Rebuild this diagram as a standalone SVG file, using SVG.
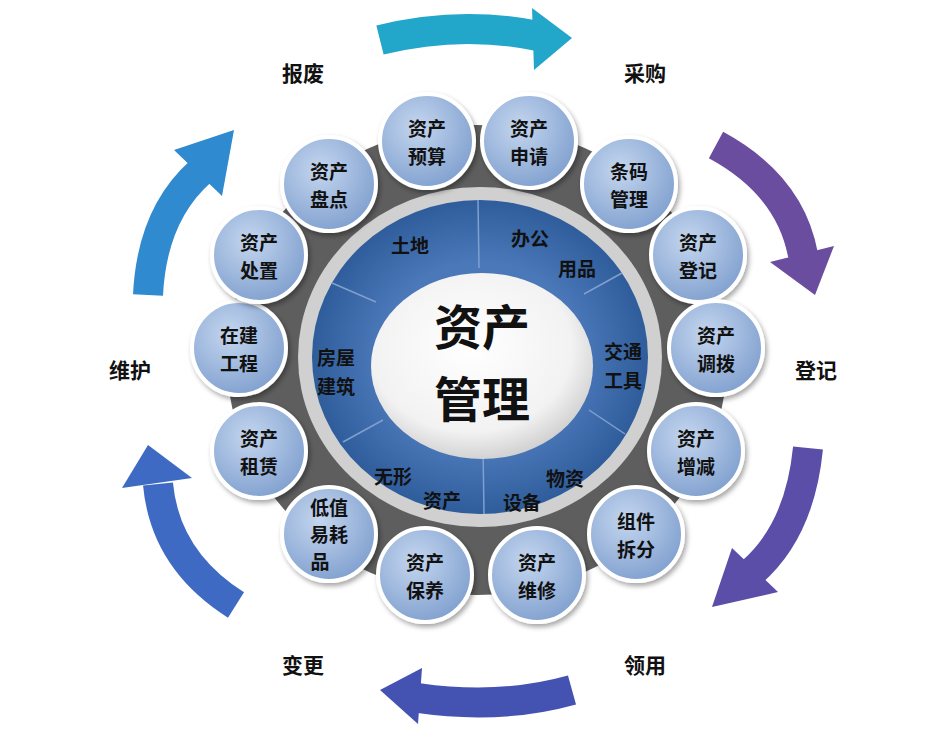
<svg xmlns="http://www.w3.org/2000/svg" width="946" height="746" viewBox="0 0 946 746">
<defs>
<radialGradient id="cg" cx="40%" cy="35%" r="70%"><stop offset="0" stop-color="#c4d6ef"/><stop offset="1" stop-color="#7f9fce"/></radialGradient>
<radialGradient id="wg" cx="45%" cy="40%" r="65%"><stop offset="0" stop-color="#ffffff"/><stop offset="0.7" stop-color="#f2f2f2"/><stop offset="1" stop-color="#c8c8c8"/></radialGradient>
<radialGradient id="bg" cx="50%" cy="50%" r="50%"><stop offset="0.6" stop-color="#4a78b8"/><stop offset="1" stop-color="#2f5d9c"/></radialGradient>
<filter id="sh" x="-20%" y="-20%" width="140%" height="140%"><feDropShadow dx="2" dy="3" stdDeviation="2.5" flood-color="#000" flood-opacity="0.35"/></filter>
<style>
.t{font-family:"Noto Sans CJK SC",sans-serif;font-weight:bold;fill:#111;text-anchor:middle}
.s{font-size:19px}
.n circle{fill:url(#cg);stroke:#fff;stroke-width:4;filter:url(#sh)}
.lab{font-size:21px}
.arc{fill:none;stroke-width:30}
</style>
</defs>
<rect width="946" height="746" fill="#fff"/>
<g id="hub">
<ellipse cx="477" cy="360" rx="250" ry="235" fill="#5e5e5e"/>
<ellipse cx="480" cy="357" rx="182" ry="170" fill="#d0d0d0"/>
<ellipse cx="480" cy="357" rx="168" ry="157" fill="url(#bg)"/>
<g stroke="#7fa0cf" stroke-width="1.5">
<line x1="478" y1="200" x2="479" y2="268"/>
<line x1="484" y1="514" x2="483" y2="447"/>
<line x1="584" y1="294" x2="622" y2="273"/>
<line x1="589" y1="410" x2="625" y2="434"/>
<line x1="376" y1="302" x2="332" y2="283"/>
<line x1="383" y1="420" x2="343" y2="442"/>
</g>
<ellipse cx="482" cy="366" rx="111" ry="93" fill="url(#wg)"/>
<text class="t" x="482" y="345" font-size="48">资产</text>
<text class="t" x="482" y="417" font-size="48">管理</text>
<text class="t s" x="410" y="253">土地</text>
<text class="t s" x="530" y="246">办公</text>
<text class="t s" x="577" y="276">用品</text>
<text class="t s" x="623" y="359">交通</text>
<text class="t s" x="623" y="388">工具</text>
<text class="t s" x="565" y="486">物资</text>
<text class="t s" x="522" y="510">设备</text>
<text class="t s" x="393" y="484">无形</text>
<text class="t s" x="442" y="508">资产</text>
<text class="t s" x="336" y="365">房屋</text>
<text class="t s" x="336" y="394">建筑</text>
</g>
<g id="n1" class="n"><circle cx="427" cy="141" r="47"/><text class="t s" x="427" y="136">资产</text><text class="t s" x="427" y="164">预算</text></g>
<g id="n2" class="n"><circle cx="529" cy="141" r="47"/><text class="t s" x="529" y="136">资产</text><text class="t s" x="529" y="164">申请</text></g>
<g id="n3" class="n"><circle cx="629" cy="184" r="47"/><text class="t s" x="629" y="179">条码</text><text class="t s" x="629" y="207">管理</text></g>
<g id="n4" class="n"><circle cx="698" cy="255" r="47"/><text class="t s" x="698" y="250">资产</text><text class="t s" x="698" y="278">登记</text></g>
<g id="n5" class="n"><circle cx="716" cy="348" r="47"/><text class="t s" x="716" y="343">资产</text><text class="t s" x="716" y="371">调拨</text></g>
<g id="n6" class="n"><circle cx="696" cy="451" r="47"/><text class="t s" x="696" y="446">资产</text><text class="t s" x="696" y="474">增减</text></g>
<g id="n7" class="n"><circle cx="636" cy="534" r="47"/><text class="t s" x="636" y="529">组件</text><text class="t s" x="636" y="557">拆分</text></g>
<g id="n8" class="n"><circle cx="537" cy="575" r="47"/><text class="t s" x="537" y="570">资产</text><text class="t s" x="537" y="598">维修</text></g>
<g id="n9" class="n"><circle cx="425" cy="575" r="47"/><text class="t s" x="425" y="570">资产</text><text class="t s" x="425" y="598">保养</text></g>
<g id="n10" class="n"><circle cx="329" cy="534" r="47"/><text class="t s" x="329" y="515">低值</text><text class="t s" x="329" y="542">易耗</text><text class="t s" x="320" y="569">品</text></g>
<g id="n11" class="n"><circle cx="259" cy="451" r="47"/><text class="t s" x="259" y="446">资产</text><text class="t s" x="259" y="474">租赁</text></g>
<g id="n12" class="n"><circle cx="239" cy="348" r="47"/><text class="t s" x="239" y="343">在建</text><text class="t s" x="239" y="371">工程</text></g>
<g id="n13" class="n"><circle cx="259" cy="255" r="47"/><text class="t s" x="259" y="250">资产</text><text class="t s" x="259" y="278">处置</text></g>
<g id="n14" class="n"><circle cx="329" cy="184" r="47"/><text class="t s" x="329" y="179">资产</text><text class="t s" x="329" y="207">盘点</text></g>
<g id="connectors">
<path class="arc" stroke="#22a6c9" d="M380,40 Q460,20 538,36"/>
<polygon fill="#22a6c9" points="532,8 572,38 534,70"/>
<path class="arc" stroke="#6a4d9e" d="M716,145 Q790,185 803,255"/>
<polygon fill="#6a4d9e" points="770,262 834,246 815,295"/>
<path class="arc" stroke="#5a4ea8" d="M808,448 Q800,530 752,572"/>
<polygon fill="#5a4ea8" points="732,548 778,592 712,607"/>
<path class="arc" stroke="#4452b2" d="M572,690 Q500,710 418,698"/>
<polygon fill="#4452b2" points="422,668 380,690 418,724"/>
<path class="arc" stroke="#3f6ac4" d="M236,605 Q165,560 158,484"/>
<polygon fill="#3f6ac4" points="122,488 148,445 192,478"/>
<path class="arc" stroke="#2f8ad0" d="M148,295 Q152,215 200,172"/>
<polygon fill="#2f8ad0" points="174,150 234,130 222,196"/>
</g>
<g id="labels">
<text class="t lab" x="303" y="81">报废</text>
<text class="t lab" x="645" y="81">采购</text>
<text class="t lab" x="816" y="378">登记</text>
<text class="t lab" x="645" y="673">领用</text>
<text class="t lab" x="303" y="673">变更</text>
<text class="t lab" x="130" y="378">维护</text>
</g>
</svg>
